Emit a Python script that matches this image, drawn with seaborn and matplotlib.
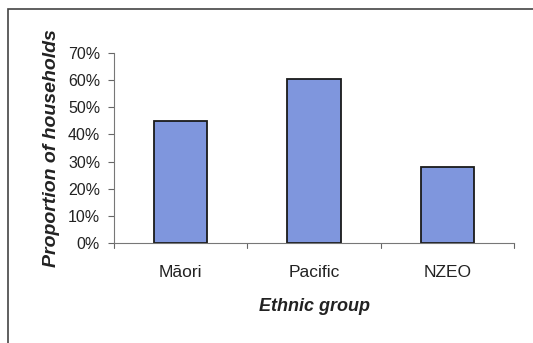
import pandas as pd
import seaborn as sns
import matplotlib.pyplot as plt
from matplotlib.patches import Rectangle
from matplotlib.ticker import PercentFormatter

# Values
groups = ["M\u0101ori", "Pacific", "NZEO"]
proportions = [45, 60.5, 28]
y_ticks = [0, 10, 20, 30, 40, 50, 60, 70]

df = pd.DataFrame({"group": groups, "proportion": proportions})

sns.set_style("white")
plt.rcParams["font.family"] = ["Liberation Sans", "DejaVu Sans"]

fig = plt.figure(figsize=(5.33, 3.43), dpi=100)
ax = fig.add_axes([0.2139, 0.2915, 0.7505, 0.554])

sns.barplot(data=df, x="group", y="proportion", color="#7F96DD", saturation=1,
            width=0.4, edgecolor="#1a1a1a", linewidth=1.3, ax=ax)

ax.set_xlim(-0.5, 2.5)
ax.set_ylim(0, 70)
ax.set_yticks(y_ticks)
ax.yaxis.set_major_formatter(PercentFormatter(decimals=0))
ax.set_xticks([0, 1, 2])
ax.set_xticklabels(groups, fontsize=12.5, color="#222222")
ax.tick_params(axis="y", labelsize=11.5, labelcolor="#222222", left=True,
               length=4, width=0.8, color="#666666", pad=6)
ax.tick_params(axis="x", bottom=False, pad=12)
# boundary ticks between categories
for xb in [-0.5, 0.5, 1.5, 2.5]:
    ax.plot([xb, xb], [0, -1.8], color="#666666", lw=0.8, clip_on=False)

for side in ["top", "right"]:
    ax.spines[side].set_visible(False)
ax.spines["left"].set_color("#777777")
ax.spines["bottom"].set_color("#777777")
ax.spines["left"].set_linewidth(0.8)
ax.spines["bottom"].set_linewidth(0.8)

ax.set_xlabel("Ethnic group", fontsize=13, fontweight="bold", fontstyle="italic",
              color="#222222", labelpad=13)
ax.set_ylabel("Proportion of households", fontsize=14, fontweight="bold",
              fontstyle="italic", color="#222222", labelpad=6)

# outer chart frame
fig.patches.append(Rectangle((8 / 533, -0.05), 1.2, 1.05 - 9 / 343,
                             transform=fig.transFigure, fill=False,
                             edgecolor="#444444", lw=1.2))

fig.savefig("out.png", dpi=100)
